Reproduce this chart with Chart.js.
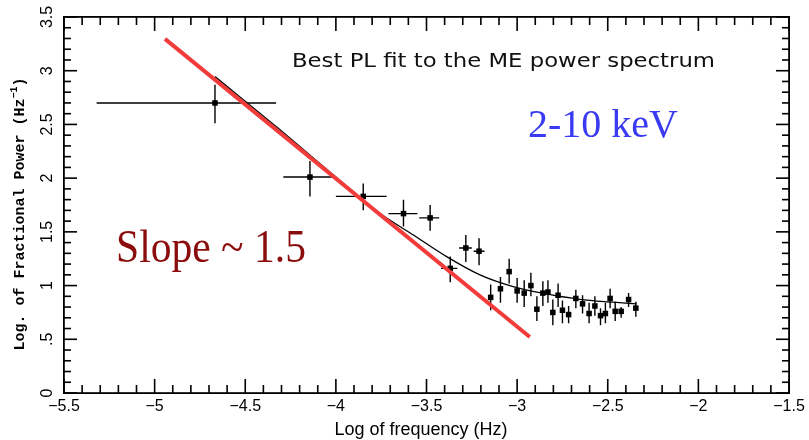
<!DOCTYPE html>
<html lang="en">
<head>
    <meta charset="UTF-8">
    <title>Best PL fit to the ME power spectrum</title>
    <script src="https://cdn.jsdelivr.net/npm/chart.js"></script>
    <style>
        body { margin: 0; background: #fff; }
    </style>
</head>
<body>
<canvas id="psdChart" width="809" height="440"></canvas>

<script>
    // binned power spectrum (log f, log P) with error bars
    const freq = [-4.667, -4.143, -3.849, -3.627, -3.480, -3.369, -3.283, -3.210, -3.146, -3.092, -3.044, -3.000, -2.961, -2.924, -2.891, -2.858,
                  -2.830, -2.803, -2.774, -2.750, -2.716, -2.676, -2.639, -2.603, -2.571, -2.540, -2.513, -2.487, -2.459, -2.426, -2.385, -2.345];
    const power = [2.70, 2.01, 1.83, 1.67, 1.63, 1.16, 1.35, 1.32, 0.89, 0.97, 1.13, 0.95, 0.93, 1.00, 0.78, 0.93,
                   0.94, 0.75, 0.91, 0.77, 0.73, 0.88, 0.83, 0.74, 0.81, 0.72, 0.74, 0.88, 0.76, 0.76, 0.87, 0.79];
    const powerHi = [2.87, 2.16, 1.95, 1.80, 1.75, 1.27, 1.47, 1.44, 1.01, 1.08, 1.25, 1.07, 1.05, 1.12, 0.90, 1.04,
                     1.05, 0.87, 1.02, 0.86, 0.81, 0.96, 0.91, 0.84, 0.90, 0.79, 0.84, 0.97, 0.85, 0.80, 0.93, 0.85];
    const powerLo = [2.51, 1.83, 1.70, 1.55, 1.51, 1.03, 1.22, 1.19, 0.77, 0.84, 1.02, 0.84, 0.80, 0.90, 0.67, 0.81,
                     0.84, 0.63, 0.80, 0.65, 0.65, 0.79, 0.74, 0.65, 0.72, 0.63, 0.65, 0.79, 0.67, 0.70, 0.80, 0.71];
    // bin widths, only the low frequency bins have visible ones
    const freqLo = [-5.32, -4.29, -4.00, -3.71, -3.54, -3.42, -3.32, -3.24];
    const freqHi = [-4.33, -4.02, -3.72, -3.55, -3.43, -3.33, -3.25, -3.18];

    // black model curve
    const fitFreq = [-4.667, -4.33, -4.0, -3.757, -3.573, -3.389, -3.205, -3.022, -2.838, -2.654, -2.470, -2.341];
    const fitPower = [2.945, 2.48, 2.01, 1.673, 1.471, 1.269, 1.099, 0.990, 0.922, 0.872, 0.845, 0.829];

    // red slope line
    const slopeFreq = [-4.943, -2.930];
    const slopePower = [3.296, 0.521];

    const xTicks = [-5.5, -5, -4.5, -4, -3.5, -3, -2.5, -2, -1.5];
    const xTickLabels = ['\u22125.5', '\u22125', '\u22124.5', '\u22124', '\u22123.5', '\u22123', '\u22122.5', '\u22122', '\u22121.5'];
    const yTicks = [0, 0.5, 1, 1.5, 2, 2.5, 3, 3.5];
    const yTickLabels = ['0', '.5', '1', '1.5', '2', '2.5', '3', '3.5'];

    function toXY(xs, ys) {
        return xs.map((x, i) => ({ x: x, y: ys[i] }));
    }

    // left aligned text squeezed/stretched to a given width
    function fitText(ctx, txt, x, y, font, color, width) {
        ctx.save();
        ctx.font = font;
        ctx.fillStyle = color;
        ctx.textAlign = 'left';
        ctx.textBaseline = 'alphabetic';
        const w = ctx.measureText(txt).width;
        ctx.translate(x, y);
        ctx.scale(width / w, 1);
        ctx.fillText(txt, 0, 0);
        ctx.restore();
    }

    const errorBars = {
        id: 'errorBars',
        beforeDatasetsDraw(chart) {
            const ctx = chart.ctx;
            const xs = chart.scales.x, ys = chart.scales.y;
            ctx.save();
            ctx.strokeStyle = '#000';
            ctx.lineWidth = 1.4;
            ctx.beginPath();
            freq.forEach((f, i) => {
                const px = xs.getPixelForValue(f);
                ctx.moveTo(px, ys.getPixelForValue(powerLo[i]));
                ctx.lineTo(px, ys.getPixelForValue(powerHi[i]));
                if (i < freqLo.length) {
                    const py = ys.getPixelForValue(power[i]);
                    ctx.moveTo(xs.getPixelForValue(freqLo[i]), py);
                    ctx.lineTo(xs.getPixelForValue(freqHi[i]), py);
                }
            });
            ctx.stroke();
            ctx.restore();
        }
    };

    const frameAndText = {
        id: 'frameAndText',
        afterDraw(chart) {
            const ctx = chart.ctx;
            const a = chart.chartArea;
            const xs = chart.scales.x, ys = chart.scales.y;
            const L = a.left, R = a.right, T = a.top, B = a.bottom;
            ctx.save();
            ctx.fillStyle = '#000';

            // frame
            ctx.fillRect(L - 1, T - 1, R - L + 2, 1.8);
            ctx.fillRect(L - 1, B - 0.8, R - L + 2, 1.8);
            ctx.fillRect(L - 1, T - 1, 1.8, B - T + 2);
            ctx.fillRect(R - 0.8, T - 1, 1.8, B - T + 2);

            // inward ticks on all four sides, minor every 0.1
            const xStep = (xs.getPixelForValue(-1.5) - xs.getPixelForValue(-5.5)) / 40;
            const yStep = (ys.getPixelForValue(0) - ys.getPixelForValue(3.5)) / 35;
            for (let k = 0; k <= 40; k++) {
                const len = k % 5 === 0 ? 14 : 8;
                const px = L + k * xStep;
                ctx.fillRect(px - 0.8, B - len, 1.6, len);
                ctx.fillRect(px - 0.8, T, 1.6, len);
            }
            for (let k = 0; k <= 35; k++) {
                const len = k % 5 === 0 ? 13 : 7;
                const py = B - k * yStep;
                ctx.fillRect(L, py - 0.8, len, 1.6);
                ctx.fillRect(R - len, py - 0.8, len, 1.6);
            }

            // x tick labels
            ctx.font = '16px "Liberation Sans", Arial, sans-serif';
            ctx.textAlign = 'center';
            ctx.textBaseline = 'middle';
            xTicks.forEach((v, i) => {
                ctx.fillText(xTickLabels[i], xs.getPixelForValue(v), 407);
            });

            // y tick labels, rotated
            yTicks.forEach((v, i) => {
                ctx.save();
                ctx.translate(48, ys.getPixelForValue(v));
                ctx.rotate(-Math.PI / 2);
                ctx.fillText(yTickLabels[i], 0, 0);
                ctx.restore();
            });

            // x title
            ctx.font = '18px "Liberation Sans", Arial, sans-serif';
            ctx.fillText('Log of frequency (Hz)', 421, 430);

            // y title with superscript
            ctx.save();
            ctx.translate(20, 214);
            ctx.rotate(-Math.PI / 2);
            const mainFont = 'bold 15px "Liberation Mono", "Courier New", monospace';
            const supFont = 'bold 10px "Liberation Mono", "Courier New", monospace';
            const t1 = 'Log. of Fractional Power (Hz', t2 = '\u22121', t3 = ')';
            ctx.font = mainFont;
            const w1 = ctx.measureText(t1).width, w3 = ctx.measureText(t3).width;
            ctx.font = supFont;
            const w2 = ctx.measureText(t2).width;
            const x0 = -(w1 + w2 + w3) / 2;
            ctx.textAlign = 'left';
            ctx.font = mainFont;
            ctx.fillText(t1, x0, 0);
            ctx.font = supFont;
            ctx.fillText(t2, x0 + w1, -6);
            ctx.font = mainFont;
            ctx.fillText(t3, x0 + w1 + w2, 0);
            ctx.restore();

            // annotations
            fitText(ctx, 'Best PL fit to the ME power spectrum', 292, 67, '20px "DejaVu Sans", sans-serif', '#111', 423);
            fitText(ctx, '2-10 keV', 528, 137, '40px "Liberation Serif", "Times New Roman", serif', '#3a3af2', 150);
            fitText(ctx, 'Slope ~ 1.5', 116, 262, '46px "Liberation Serif", "Times New Roman", serif', '#8a0c0c', 190);
            ctx.restore();
        }
    };

    new Chart(document.getElementById('psdChart').getContext('2d'), {
        type: 'scatter',
        data: {
            datasets: [{
                label: 'Slope',
                data: toXY(slopeFreq, slopePower),
                showLine: true,
                borderColor: '#f23b3b',
                borderWidth: 4,
                pointRadius: 0,
                order: 0
            }, {
                label: 'Power spectrum',
                data: toXY(freq, power),
                pointStyle: 'rect',
                pointRadius: 3.9,
                backgroundColor: '#000',
                borderColor: '#000',
                borderWidth: 0,
                order: 1
            }, {
                label: 'Best PL fit',
                data: toXY(fitFreq, fitPower),
                showLine: true,
                borderColor: '#000',
                borderWidth: 1.3,
                cubicInterpolationMode: 'monotone',
                pointRadius: 0,
                order: 2
            }]
        },
        options: {
            responsive: false,
            animation: false,
            layout: { padding: { left: 64, right: 20, top: 17, bottom: 47 } },
            scales: {
                x: { type: 'linear', min: -5.5, max: -1.5, display: false },
                y: { type: 'linear', min: 0, max: 3.5, display: false }
            },
            plugins: {
                legend: { display: false },
                tooltip: { enabled: false }
            }
        },
        plugins: [errorBars, frameAndText]
    });
</script>
</body>
</html>
